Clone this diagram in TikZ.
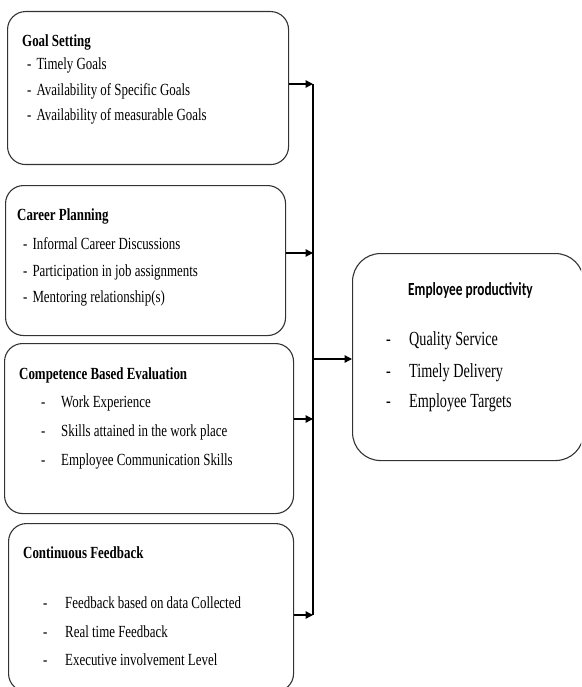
\documentclass[tikz,border=0pt]{standalone}
\usepackage{fontspec}
\setmainfont{Liberation Serif}
\newfontfamily\bodyfont{Liberation Serif}[FakeStretch=0.76]
\newfontfamily\bigfont{Liberation Serif}[FakeStretch=0.71]
\newfontfamily\headfont{Carlito}[FakeStretch=0.72]
\usetikzlibrary{arrows.meta}
\begin{document}
\begin{tikzpicture}[x=1pt,y=-1pt,
  box/.style={draw=black!80,line width=1.1pt,rounded corners=18pt,anchor=north west,inner sep=0pt},
  ttl/.style={anchor=base west,inner sep=0pt,font=\bodyfont\fontsize{17}{19}\selectfont\bfseries},
  itm/.style={anchor=base west,inner sep=0pt,font=\bodyfont\fontsize{17}{19}\selectfont},
  bitm/.style={anchor=base west,inner sep=0pt,font=\bigfont\fontsize{20}{23}\selectfont},
  conn/.style={line width=1.3pt,-{Triangle[length=7.5pt,width=7.5pt]}},
  busline/.style={line width=1.3pt}]
\useasboundingbox (0,0) rectangle (581,687);
\clip (0,0) rectangle (581,687);
% boxes
\node[box,minimum width=281pt,minimum height=153pt] (b1) at (7,11) {};
\node[box,minimum width=280pt,minimum height=150pt] (b2) at (5,185) {};
\node[box,minimum width=289pt,minimum height=170pt] (b3) at (4,343) {};
\node[box,minimum width=285pt,minimum height=168pt] (b4) at (8,523) {};
\node[box,rounded corners=28pt,minimum width=231pt,minimum height=207pt] (out) at (352,253) {};
% box 1 text
\node[ttl] (t1) at (22,47) {Goal Setting};
\node[itm] (t1a) at (27,70) {-\hspace{5pt}Timely Goals};
\node[itm] (t1b) at (27,96) {-\hspace{5pt}Availability of Specific Goals};
\node[itm] (t1c) at (27,121) {-\hspace{5pt}Availability of measurable Goals};
% box 2 text
\node[ttl] (t2) at (17,220) {Career Planning};
\node[itm] (t2a) at (23,249) {-\hspace{5pt}Informal Career Discussions};
\node[itm] (t2b) at (23,276) {-\hspace{5pt}Participation in job assignments};
\node[itm] (t2c) at (23,302) {-\hspace{5pt}Mentoring relationship(s)};
% box 3 text
\node[ttl] (t3) at (19,379) {Competence Based Evaluation};
\node[itm] (d3a) at (41,407) {-};
\node[itm] (t3a) at (61,407) {Work Experience};
\node[itm] (d3b) at (41,436) {-};
\node[itm] (t3b) at (61,436) {Skills attained in the work place};
\node[itm] (d3c) at (41,465) {-};
\node[itm] (t3c) at (61,465) {Employee Communication Skills};
% box 4 text
\node[ttl] (t4) at (23,558) {Continuous Feedback};
\node[itm] (d4a) at (43,608) {-};
\node[itm] (t4a) at (65,608) {Feedback based on data Collected};
\node[itm] (d4b) at (43,637) {-};
\node[itm] (t4b) at (65,637) {Real time Feedback};
\node[itm] (d4c) at (43,665) {-};
\node[itm] (t4c) at (65,665) {Executive involvement Level};
% output box text
\node[anchor=base west,inner sep=0pt,font=\headfont\fontsize{18.5}{21}\selectfont\bfseries] (t5) at (408,295) {Employee productivity};
\node[bitm] (d5a) at (386,345) {-};
\node[bitm] (t5a) at (409,345) {Quality Service};
\node[bitm] (d5b) at (386,377) {-};
\node[bitm] (t5b) at (409,377) {Timely Delivery};
\node[bitm] (d5c) at (386,407) {-};
\node[bitm] (t5c) at (409,407) {Employee Targets};
% bus
\coordinate (p1) at (313,84);
\coordinate (p2) at (313,253);
\coordinate (p3) at (313,419);
\coordinate (p4) at (313,615);
\coordinate (pm) at (313,359);
\draw[busline] (p1) -- (p4);
\draw[conn] (b1.east |- p1) -- (p1);
\draw[conn] (b2.east |- p2) -- (p2);
\draw[conn] (b3.east |- p3) -- (p3);
\draw[conn] (b4.east |- p4) -- (p4);
\draw[conn] (pm) -- (out.west |- pm);
\end{tikzpicture}
\end{document}
